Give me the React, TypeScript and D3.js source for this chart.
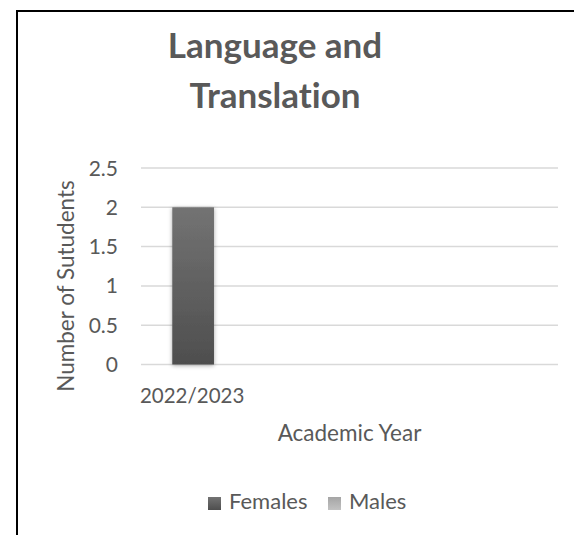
import React from "react";
import * as d3 from "d3";

const years = ["2022/2023", "", "", ""];
const females = [2, null, null, null];
const males = [0, null, null, null];
const seriesNames = ["Females", "Males"];
const yTicks = [0, 0.5, 1, 1.5, 2, 2.5];
const titleLines = ["Language and", "Translation"];
const xTitle = "Academic Year";
const yTitle = "Number of Sutudents";

const W = 574;
const H = 535;
const plot = { left: 141, right: 558, top: 168, bottom: 364.5 };
const font = "Lato, 'Open Sans', sans-serif";
const textColor = "#595959";
const noLig = { fontVariantLigatures: "none" as const };

export default function App() {
  const y = d3.scaleLinear().domain([0, 2.5]).range([plot.bottom, plot.top]);
  const x = d3
    .scaleBand<number>()
    .domain(d3.range(years.length))
    .range([plot.left, plot.right])
    .paddingInner(0.6)
    .paddingOuter(0.3);
  const bw = x.bandwidth();

  return (
    <div>
      <style>{`body{margin:0}`}</style>
      <svg width={W} height={H} style={{ display: "block" }}>
        <defs>
          <linearGradient id="gF" x1="0" y1="0" x2="0" y2="1">
            <stop offset="0" stopColor="#737373" />
            <stop offset="1" stopColor="#4e4e4e" />
          </linearGradient>
          <linearGradient id="gM" x1="0" y1="0" x2="0" y2="1">
            <stop offset="0" stopColor="#a5a5a5" />
            <stop offset="1" stopColor="#c2c2c2" />
          </linearGradient>
          <filter id="sh" x="-30%" y="-10%" width="160%" height="125%">
            <feDropShadow dx="0" dy="1" stdDeviation="2" floodColor="#000" floodOpacity="0.35" />
          </filter>
        </defs>
        <rect x={0} y={0} width={W} height={H} fill="#fff" />
        <rect x={17} y={11} width={W + 20} height={H + 20} fill="none" stroke="#000" strokeWidth={2} />

        {titleLines.map((t, i) => (
          <text
            key={i}
            x={275}
            y={58 + i * 50}
            textAnchor="middle"
            fontFamily={font}
            fontWeight="bold"
            fontSize={35}
            fill={textColor}
            style={noLig}
          >
            {t}
          </text>
        ))}

        {yTicks.map((t) => (
          <g key={t}>
            <line
              x1={plot.left}
              x2={plot.right}
              y1={y(t)}
              y2={y(t)}
              stroke="#d9d9d9"
              strokeWidth={1.5}
            />
            <text
              x={118}
              y={y(t)}
              dy="0.36em"
              textAnchor="end"
              fontFamily={font}
              fontSize={21}
              fill={textColor}
            >
              {String(t)}
            </text>
          </g>
        ))}

        {females.map((v, i) =>
          v == null ? null : (
            <rect
              key={"f" + i}
              x={x(i)!}
              y={y(v)}
              width={bw}
              height={y(0) - y(v)}
              fill="url(#gF)"
              filter="url(#sh)"
            />
          )
        )}
        {males.map((v, i) =>
          v == null || v === 0 ? null : (
            <rect
              key={"m" + i}
              x={x(i)!}
              y={y(v)}
              width={bw}
              height={y(0) - y(v)}
              fill="url(#gM)"
            />
          )
        )}

        {years.map((c, i) => (
          <text
            key={"c" + i}
            x={x(i)! + bw / 2 - 1}
            y={403}
            textAnchor="middle"
            fontFamily={font}
            fontSize={20.5}
            fill={textColor}
          >
            {c}
          </text>
        ))}

        <text
          x={(plot.left + plot.right) / 2}
          y={441}
          textAnchor="middle"
          fontFamily={font}
          fontSize={22.5}
          fill={textColor}
          style={noLig}
        >
          {xTitle}
        </text>
        <text
          transform={`translate(74,286) rotate(-90)`}
          textAnchor="middle"
          fontFamily={font}
          fontSize={22.5}
          fill={textColor}
          style={noLig}
        >
          {yTitle}
        </text>

        {seriesNames.map((s, i) => {
          const lx = i === 0 ? 208 : 328;
          return (
            <g key={s}>
              <rect x={lx} y={497} width={13} height={13} fill={i === 0 ? "url(#gF)" : "url(#gM)"} />
              <text x={lx + 21} y={509} fontFamily={font} fontSize={22} fill={textColor}>
                {s}
              </text>
            </g>
          );
        })}
      </svg>
    </div>
  );
}
